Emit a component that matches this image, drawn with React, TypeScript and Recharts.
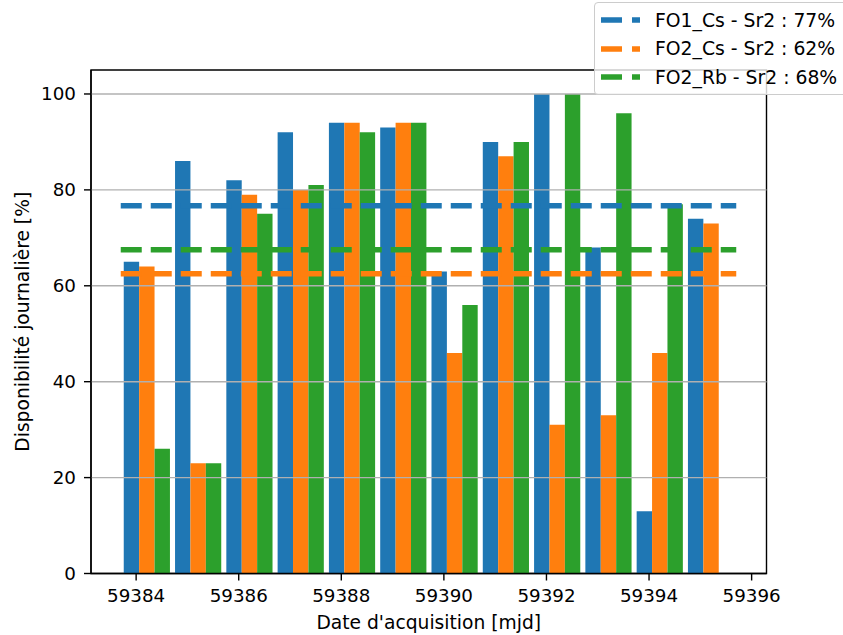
import React from 'react';
import { ComposedChart, Bar, XAxis, YAxis, ReferenceLine, ReferenceArea, Legend, Label } from 'recharts';

// acquisition days (mjd) and daily availability [%] per link
const DAYS = [59384, 59385, 59386, 59387, 59388, 59389, 59390, 59391, 59392, 59393, 59394, 59395];
const FO1_CS = [65, 86, 82, 92, 94, 93, 63, 90, 100, 68, 13, 74];
const FO2_CS = [64, 23, 79, 80, 94, 94, 46, 87, 31, 33, 46, 73];
const FO2_RB = [26, 23, 75, 81, 92, 94, 56, 90, 100, 96, 77, null];

const SERIES_NAMES = ['FO1_Cs - Sr2', 'FO2_Cs - Sr2', 'FO2_Rb - Sr2'];
const SERIES_PCT = [77, 62, 68];

const X_TICKS = [59384, 59386, 59388, 59390, 59392, 59394, 59396];
const Y_TICKS = [0, 20, 40, 60, 80, 100];
const GRID_Y = [20, 40, 60, 80, 100];

const X_DOMAIN: [number, number] = [59383.12, 59396.29];
const Y_DOMAIN: [number, number] = [0, 105];
const GROUP_SHIFT = 0.2; // bar groups sit right of the day tick
const MEAN_FROM = 59383.7;
const MEAN_TO = 59395.7;

const COLORS = ['#1f77b4', '#ff7f0e', '#2ca02c'];
const KEYS = ['fo1Cs', 'fo2Cs', 'fo2Rb'];
const FONT = '"DejaVu Sans", sans-serif';

const data = DAYS.map((d, i) => ({
  x: d + GROUP_SHIFT,
  fo1Cs: FO1_CS[i],
  fo2Cs: FO2_CS[i],
  fo2Rb: FO2_RB[i],
}));

// missing days count as 0 availability
const mean = (arr: (number | null)[]) => arr.reduce((s: number, v) => s + (v ?? 0), 0) / arr.length;
const MEANS = [mean(FO1_CS), mean(FO2_CS), mean(FO2_RB)];

const renderLegend = () => (
  <div
    style={{
      boxSizing: 'border-box',
      width: 262,
      height: 93,
      border: '1px solid #cccccc',
      borderRadius: 4,
      background: 'rgba(255,255,255,0.8)',
      paddingTop: 3,
      fontFamily: FONT,
      fontSize: 18.8,
      color: '#000',
    }}
  >
    {SERIES_NAMES.map((name, i) => (
      <div key={name} style={{ display: 'flex', alignItems: 'center', height: 28.5 }}>
        <svg width={39} height={10} style={{ marginLeft: 6, marginRight: 15 }}>
          <line x1={0} x2={39} y1={5} y2={5} stroke={COLORS[i]} strokeWidth={5.5} strokeDasharray="21 10" />
        </svg>
        <span style={{ whiteSpace: 'nowrap' }}>{`${name} : ${SERIES_PCT[i]}%`}</span>
      </div>
    ))}
  </div>
);

const tickStyle = { fill: '#000', fontSize: 18.3, fontFamily: FONT };

export default function App() {
  return (
    <div style={{ position: 'absolute', left: 0, top: 0, width: 843, height: 635, overflow: 'hidden', background: '#fff' }}>
      <ComposedChart
        width={843}
        height={635}
        data={data}
        margin={{ top: 70, right: 76.5, left: 0, bottom: 0 }}
        barGap={0}
      >
        <XAxis
          type="number"
          dataKey="x"
          domain={X_DOMAIN}
          ticks={X_TICKS}
          interval={0}
          allowDataOverflow
          height={61.5}
          tickSize={7}
          tickMargin={9}
          tick={tickStyle}
          axisLine={{ stroke: '#000', strokeWidth: 1.4 }}
          tickLine={{ stroke: '#000', strokeWidth: 1.4 }}
        >
          <Label
            content={({ viewBox }: any) => (
              <text
                x={viewBox.x + viewBox.width / 2}
                y={viewBox.y + 55}
                textAnchor="middle"
                fontSize={18.7}
                fontFamily={FONT}
                fill="#000"
              >
                Date d'acquisition [mjd]
              </text>
            )}
          />
        </XAxis>
        <YAxis
          type="number"
          domain={Y_DOMAIN}
          ticks={Y_TICKS}
          interval={0}
          allowDataOverflow
          width={91}
          tickSize={7}
          tickMargin={8}
          tick={tickStyle}
          axisLine={{ stroke: '#000', strokeWidth: 1.4 }}
          tickLine={{ stroke: '#000', strokeWidth: 1.4 }}
        >
          <Label
            content={({ viewBox }: any) => {
              const cx = 29;
              const cy = viewBox.y + viewBox.height / 2;
              return (
                <text
                  x={cx}
                  y={cy}
                  transform={`rotate(-90 ${cx} ${cy})`}
                  textAnchor="middle"
                  fontSize={18.7}
                  fontFamily={FONT}
                  fill="#000"
                >
                  Disponibilité journalière [%]
                </text>
              );
            }}
          />
        </YAxis>
        {KEYS.map((k, i) => (
          <Bar key={k} dataKey={k} name={SERIES_NAMES[i]} fill={COLORS[i]} barSize={15.4} isAnimationActive={false} />
        ))}
        {GRID_Y.map((y) => (
          <ReferenceLine key={`g${y}`} y={y} stroke="#b0b0b0" strokeWidth={1.4} />
        ))}
        {MEANS.map((m, i) => (
          <ReferenceLine
            key={`m${i}`}
            segment={[{ x: MEAN_FROM, y: m }, { x: MEAN_TO, y: m }]}
            stroke={COLORS[i]}
            strokeWidth={5.5}
            strokeDasharray="21 9"
          />
        ))}
        <ReferenceArea
          x1={X_DOMAIN[0]}
          x2={X_DOMAIN[1]}
          y1={Y_DOMAIN[0]}
          y2={Y_DOMAIN[1]}
          fill="none"
          fillOpacity={0}
          stroke="#000"
          strokeWidth={1.4}
        />
        <Legend
          layout="vertical"
          align="center"
          verticalAlign="middle"
          content={renderLegend}
          wrapperStyle={{ left: 594, top: 2, width: 262, height: 93 }}
        />
      </ComposedChart>
    </div>
  );
}
